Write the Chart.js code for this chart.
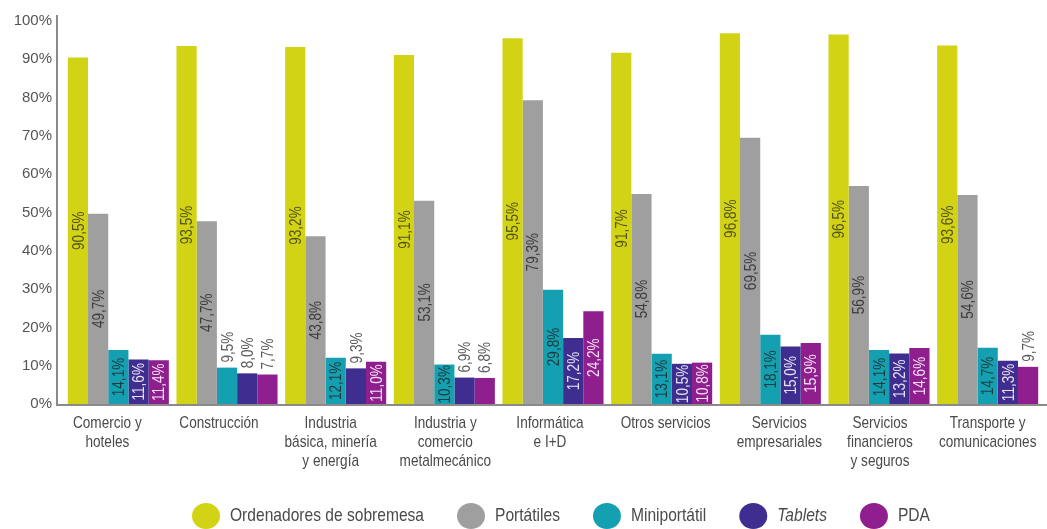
<!DOCTYPE html>
<html lang="es">
<head>
<meta charset="utf-8">
<title>Equipamiento informático por sector</title>
<script src="https://cdn.jsdelivr.net/npm/chart.js@4.4.1/dist/chart.umd.min.js"></script>
<style>
  html, body { margin: 0; padding: 0; background: #fff; }
  #wrap { position: relative; width: 1047px; height: 529px; }
</style>
</head>
<body>
<div id="wrap">
  <canvas id="chart"></canvas>
</div>
<script>
// =================== DATA ===================
const sectors = [
  ["Comercio y", "hoteles"],
  ["Construcción"],
  ["Industria", "básica, minería", "y energía"],
  ["Industria y", "comercio", "metalmecánico"],
  ["Informática", "e I+D"],
  ["Otros servicios"],
  ["Servicios", "empresariales"],
  ["Servicios", "financieros", "y seguros"],
  ["Transporte y", "comunicaciones"]
];

const seriesNames = ["Ordenadores de sobremesa", "Portátiles", "Miniportátil", "Tablets", "PDA"];
const italicNames = ["Tablets"];

const sobremesa    = [90.5, 93.5, 93.2, 91.1, 95.5, 91.7, 96.8, 96.5, 93.6];
const portatiles   = [49.7, 47.7, 43.8, 53.1, 79.3, 54.8, 69.5, 56.9, 54.6];
const miniportatil = [14.1, 9.5, 12.1, 10.3, 29.8, 13.1, 18.1, 14.1, 14.7];
const tablets      = [11.6, 8.0, 9.3, 6.9, 17.2, 10.5, 15.0, 13.2, 11.3];
const pda          = [11.4, 7.7, 11.0, 6.8, 24.2, 10.8, 15.9, 14.6, 9.7];

const yTicks = [0, 10, 20, 30, 40, 50, 60, 70, 80, 90, 100];

// =================== STYLE ===================
const barColors   = ["#d2d314", "#a09f9f", "#14a0b0", "#3f2d8f", "#8f1f8e"];
const labelColors = ["#55531c", "#3c3c3c", "#1f3a3f", "#e6e2f4", "#f6e0f4"];
const outsideColor = "#5a5a5a";
const textColor = "#4a4a4a";
const axisColor = "#8a8a8a";
const FAMILY = '"Liberation Sans", Arial, sans-serif';
const SQUEEZE = 0.8;   // narrow the text horizontally, like a condensed face

// sector names are set by hand, not exactly under the group centres
const sectorNudge = [-11, -8, -5, 1, -3, 4, 9, 1, 0];

const fmt = v => v.toFixed(1).replace(".", ",") + "%";

// draws text squeezed along its own x direction
function narrowText(ctx, text, x, y, size, align, italic, squeeze = SQUEEZE) {
  ctx.save();
  ctx.font = (italic ? "italic " : "") + size + "px " + FAMILY;
  ctx.textAlign = align;
  ctx.textBaseline = "middle";
  ctx.translate(x, y);
  ctx.scale(squeeze, 1);
  ctx.fillText(text, 0, 0);
  ctx.restore();
}

function narrowWidth(ctx, text, size, italic, squeeze = SQUEEZE) {
  ctx.save();
  ctx.font = (italic ? "italic " : "") + size + "px " + FAMILY;
  const w = ctx.measureText(text).width * squeeze;
  ctx.restore();
  return w;
}

// =================== PLUGINS ===================
// value labels, rotated; inside the bar when it fits, above it otherwise
const barLabels = {
  id: "barLabels",
  afterDatasetsDraw(chart) {
    const ctx = chart.ctx;
    chart.data.datasets.forEach((ds, di) => {
      chart.getDatasetMeta(di).data.forEach((bar, i) => {
        const v = ds.data[i];
        const p = bar.getProps(["x", "y", "base"], true);
        ctx.save();
        if (v >= 10) {
          ctx.translate(p.x + 1, (p.y + p.base) / 2);
          ctx.rotate(-Math.PI / 2);
          ctx.fillStyle = labelColors[di];
          narrowText(ctx, fmt(v), 0, 0, 17, "center");
        } else {
          ctx.translate(p.x + 1, p.y - 5);
          ctx.rotate(-Math.PI / 2);
          ctx.fillStyle = outsideColor;
          narrowText(ctx, fmt(v), 0, 0, 17, "left");
        }
        ctx.restore();
      });
    });
  }
};

// axis lines, set a little left of the first bar group
const axisLines = {
  id: "axisLines",
  afterDatasetsDraw(chart) {
    const { ctx, chartArea } = chart;
    const x0 = chartArea.left - 7;
    ctx.save();
    ctx.strokeStyle = axisColor;
    ctx.lineWidth = 2;
    ctx.beginPath();
    ctx.moveTo(x0, chartArea.top - 6);
    ctx.lineTo(x0, chartArea.bottom + 2);
    ctx.moveTo(x0, chartArea.bottom + 1);
    ctx.lineTo(chart.width, chartArea.bottom + 1);
    ctx.stroke();
    ctx.restore();
  }
};

// sector names under each group, and the legend row below them
const bottomText = {
  id: "bottomText",
  afterDraw(chart) {
    const { ctx, chartArea } = chart;
    const xs = chart.scales.x;
    ctx.save();
    ctx.fillStyle = textColor;
    sectors.forEach((lines, i) => {
      const x = xs.getPixelForTick(i) + sectorNudge[i];
      lines.forEach((line, k) => {
        narrowText(ctx, line, x, chartArea.bottom + 19 + k * 19, 17, "center");
      });
    });

    // legend
    let x = 192;
    const y = 516;
    seriesNames.forEach((name, i) => {
      const italic = italicNames.includes(name);
      ctx.fillStyle = barColors[i];
      ctx.beginPath();
      ctx.ellipse(x + 14, y, 14, 13, 0, 0, Math.PI * 2);
      ctx.fill();
      x += 38;
      ctx.fillStyle = textColor;
      narrowText(ctx, name, x, y, 19, "left", italic, 0.82);
      x += narrowWidth(ctx, name, 19, italic, 0.82) + 33;
    });
    ctx.restore();
  }
};

// =================== CHART ===================
const seriesData = [sobremesa, portatiles, miniportatil, tablets, pda];

new Chart(document.getElementById("chart"), {
  type: "bar",
  data: {
    labels: sectors.map(s => s.join(" ")),
    datasets: seriesNames.map((name, i) => ({
      label: name,
      data: seriesData[i],
      backgroundColor: barColors[i],
      borderWidth: 0,
      barPercentage: 1,
      categoryPercentage: 0.93
    }))
  },
  options: {
    responsive: true,
    maintainAspectRatio: false,
    animation: false,
    layout: { padding: { top: 17, right: 5, left: 0, bottom: 0 } },
    plugins: {
      legend: { display: false },
      tooltip: { enabled: false }
    },
    scales: {
      x: {
        grid: { display: false, drawTicks: false },
        border: { display: false },
        ticks: { display: false },
        afterFit: s => { s.height = 125; }
      },
      y: {
        min: 0,
        max: 100,
        grid: { display: false, drawTicks: false },
        border: { display: false },
        afterBuildTicks: s => { s.ticks = yTicks.map(v => ({ value: v })); },
        ticks: {
          padding: 12,
          color: "#555",
          font: { family: FAMILY, size: 15 },
          callback: v => v + "%"
        },
        afterFit: s => { s.width = 64; }
      }
    }
  },
  plugins: [barLabels, axisLines, bottomText]
});
</script>
</body>
</html>
